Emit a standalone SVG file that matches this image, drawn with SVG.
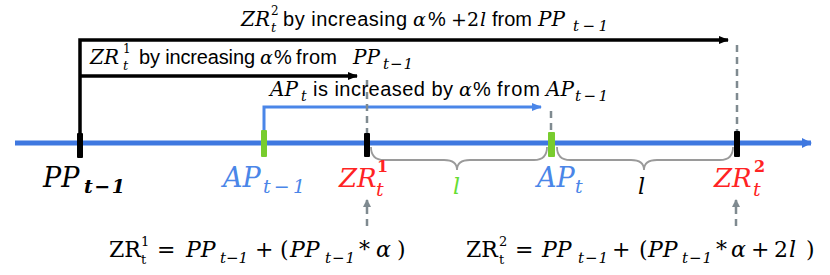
<svg xmlns="http://www.w3.org/2000/svg" width="830" height="275" viewBox="0 0 830 275">
<defs>
<style>
.s{font-family:"Liberation Sans",Arial,sans-serif;font-size:20px;fill:#000}
.m{font-family:"DejaVu Serif","Liberation Serif",serif;font-style:italic;fill:#000}
.u{font-family:"DejaVu Serif","Liberation Serif",serif;font-style:normal;fill:#000}
.blk{stroke:#000;stroke-width:3.5;fill:none}
.blu{stroke:#4a86e8;stroke-width:3;fill:none}
.dash{stroke:#7f8a90;stroke-width:2.5;stroke-dasharray:7,5;fill:none}
.brace{stroke:#9a9a9a;stroke-width:1.8;fill:none}
.tickb{fill:#000}
.tickg{fill:#78cc2e}
.red{fill:#ff2323}
.bl{fill:#4a86e8}
.gr{fill:#66dd33}
</style>
<marker id="ab" markerWidth="10" markerHeight="8" refX="9" refY="4" orient="auto" markerUnits="userSpaceOnUse"><path d="M0,0 L10,4 L0,8 z" fill="#000"/></marker>
<marker id="abl" markerWidth="10" markerHeight="8" refX="9" refY="4" orient="auto" markerUnits="userSpaceOnUse"><path d="M0,0 L10,4 L0,8 z" fill="#4a86e8"/></marker>
<marker id="aax" markerWidth="10" markerHeight="10" refX="9" refY="5" orient="auto" markerUnits="userSpaceOnUse"><path d="M0,0 L10,5 L0,10 z" fill="#3f78e0"/></marker>
<marker id="ag" markerWidth="8" markerHeight="8" refX="7" refY="4" orient="auto" markerUnits="userSpaceOnUse"><path d="M0,0 L8,4 L0,8 z" fill="#7f8a90"/></marker>
</defs>
<rect width="830" height="275" fill="#fff"/>

<g id="axis">
<line x1="15" y1="143" x2="811" y2="143" stroke="#3f78e0" stroke-width="5" marker-end="url(#aax)"/>
</g>

<g id="connectors">
<polyline class="blk" points="80,134 80,40 728,40" marker-end="url(#ab)"/>
<polyline class="blk" points="80,76 357,76" marker-end="url(#ab)"/>
<polyline class="blu" points="264,131 264,107 541,107" marker-end="url(#abl)"/>
<line class="dash" x1="367" y1="80" x2="367" y2="133"/>
<line class="dash" x1="551" y1="111" x2="551" y2="131"/>
<line class="dash" x1="737" y1="45" x2="737" y2="131"/>
<line class="dash" x1="367" y1="226" x2="367" y2="200" marker-end="url(#ag)"/>
<line class="dash" x1="736" y1="226" x2="736" y2="200" marker-end="url(#ag)"/>
<path class="brace" d="M371,147 Q371,160 384,160 L444,160 Q457,160 457,170 Q457,160 470,160 L534,160 Q547,160 547,147"/>
<path class="brace" d="M557,147 Q557,160 570,160 L631,160 Q644,160 644,170 Q644,160 657,160 L720,160 Q733,160 733,147"/>
</g>

<g id="label-zr2-top">
<text class="m" x="241" y="26" font-size="20">ZR</text>
<text class="u" x="271" y="15" font-size="12">2</text>
<text class="m" x="271" y="32" font-size="13">t</text>
<text class="s" x="283" y="26" textLength="124">by increasing</text>
<text class="m" x="413" y="26" font-size="19">α</text>
<text class="s" x="428" y="26">%</text>
<text class="u" x="451" y="26" font-size="19">+2</text>
<text class="m" x="480" y="26" font-size="19">l</text>
<text class="s" x="492" y="26" textLength="40">from</text>
<text class="m" x="538" y="26" font-size="20">PP</text>
<text class="m" x="573" y="31" font-size="15" textLength="35">t−1</text>
</g>

<g id="label-zr1-top">
<text class="m" x="90" y="64" font-size="20">ZR</text>
<text class="u" x="123" y="53" font-size="12">1</text>
<text class="m" x="123" y="70" font-size="13">t</text>
<text class="s" x="139" y="64" textLength="116">by increasing</text>
<text class="m" x="260" y="64" font-size="19">α</text>
<text class="s" x="274" y="64">%</text>
<text class="s" x="296" y="64" textLength="41">from</text>
<text class="m" x="353" y="64" font-size="20">PP</text>
<text class="m" x="383" y="69" font-size="15" textLength="30">t−1</text>
</g>

<g id="label-ap-top">
<text class="m" x="270" y="96" font-size="20">AP</text>
<text class="m" x="301" y="101" font-size="14">t</text>
<text class="s" x="313" y="96" textLength="140">is increased by</text>
<text class="m" x="459" y="96" font-size="19">α</text>
<text class="s" x="473" y="96">%</text>
<text class="s" x="497" y="96" textLength="43">from</text>
<text class="m" x="546" y="96" font-size="20">AP</text>
<text class="m" x="575" y="101" font-size="15" textLength="33">t−1</text>
</g>

<g id="node-pp">
<rect class="tickb" x="77" y="133" width="6" height="25" rx="1"/>
<text class="m" x="43" y="187" font-size="27">PP</text>
<text class="m" x="84" y="193" font-size="19" font-weight="bold" textLength="41">t−1</text>
</g>

<g id="node-ap-prev">
<rect class="tickg" x="261" y="130" width="6" height="27" rx="1"/>
<text class="m bl" x="223" y="187" font-size="27">AP</text>
<text class="m bl" x="263" y="193" font-size="19" textLength="42">t−1</text>
</g>

<g id="node-zr1">
<rect class="tickb" x="364" y="133" width="6" height="24" rx="1"/>
<text class="m red" x="339" y="187" font-size="26">ZR</text>
<text class="u red" x="377" y="172" font-size="16" font-weight="bold">1</text>
<text class="m red" x="376" y="196" font-size="19">t</text>
</g>

<g id="node-ap">
<rect class="tickg" x="548" y="132" width="7" height="25" rx="1"/>
<text class="m bl" x="537" y="187" font-size="27">AP</text>
<text class="m bl" x="575" y="193" font-size="19">t</text>
</g>

<g id="node-zr2">
<rect class="tickb" x="734" y="131" width="6" height="26" rx="1"/>
<text class="m red" x="714" y="187" font-size="26">ZR</text>
<text class="u red" x="754" y="172" font-size="16" font-weight="bold">2</text>
<text class="m red" x="753" y="196" font-size="19">t</text>
</g>

<g id="label-l1">
<text class="m gr" x="453" y="194" font-size="22">l</text>
</g>
<g id="label-l2">
<text class="m" x="638" y="194" font-size="22">l</text>
</g>

<g id="formula-zr1">
<text class="u" x="109" y="257" font-size="22">ZR</text>
<text class="u" x="141" y="246" font-size="13">1</text>
<text class="u" x="141" y="264" font-size="13">t</text>
<text class="u" x="157" y="257" font-size="22">=</text>
<text class="m" x="186" y="257" font-size="22">PP</text>
<text class="m" x="220" y="263" font-size="15" textLength="28">t−1</text>
<text class="u" x="255" y="257" font-size="22">+</text>
<text class="u" x="280" y="257" font-size="22">(</text>
<text class="m" x="290" y="257" font-size="22">PP</text>
<text class="m" x="325" y="263" font-size="15" textLength="30">t−1</text>
<text class="u" x="359" y="257" font-size="22">*</text>
<text class="m" x="376" y="257" font-size="22">α</text>
<text class="u" x="397" y="257" font-size="22">)</text>
</g>

<g id="formula-zr2">
<text class="u" x="466" y="257" font-size="22">ZR</text>
<text class="u" x="499" y="246" font-size="13">2</text>
<text class="u" x="499" y="264" font-size="13">t</text>
<text class="u" x="515" y="257" font-size="22">=</text>
<text class="m" x="542" y="257" font-size="22">PP</text>
<text class="m" x="578" y="263" font-size="15" textLength="30">t−1</text>
<text class="u" x="612" y="257" font-size="22">+</text>
<text class="u" x="639" y="257" font-size="22">(</text>
<text class="m" x="648" y="257" font-size="22">PP</text>
<text class="m" x="682" y="263" font-size="15" textLength="30">t−1</text>
<text class="u" x="716" y="257" font-size="22">*</text>
<text class="m" x="731" y="257" font-size="22">α</text>
<text class="u" x="751" y="257" font-size="22">+</text>
<text class="u" x="774" y="257" font-size="22">2</text>
<text class="m" x="789" y="257" font-size="22">l</text>
<text class="u" x="806" y="257" font-size="22">)</text>
</g>
</svg>
